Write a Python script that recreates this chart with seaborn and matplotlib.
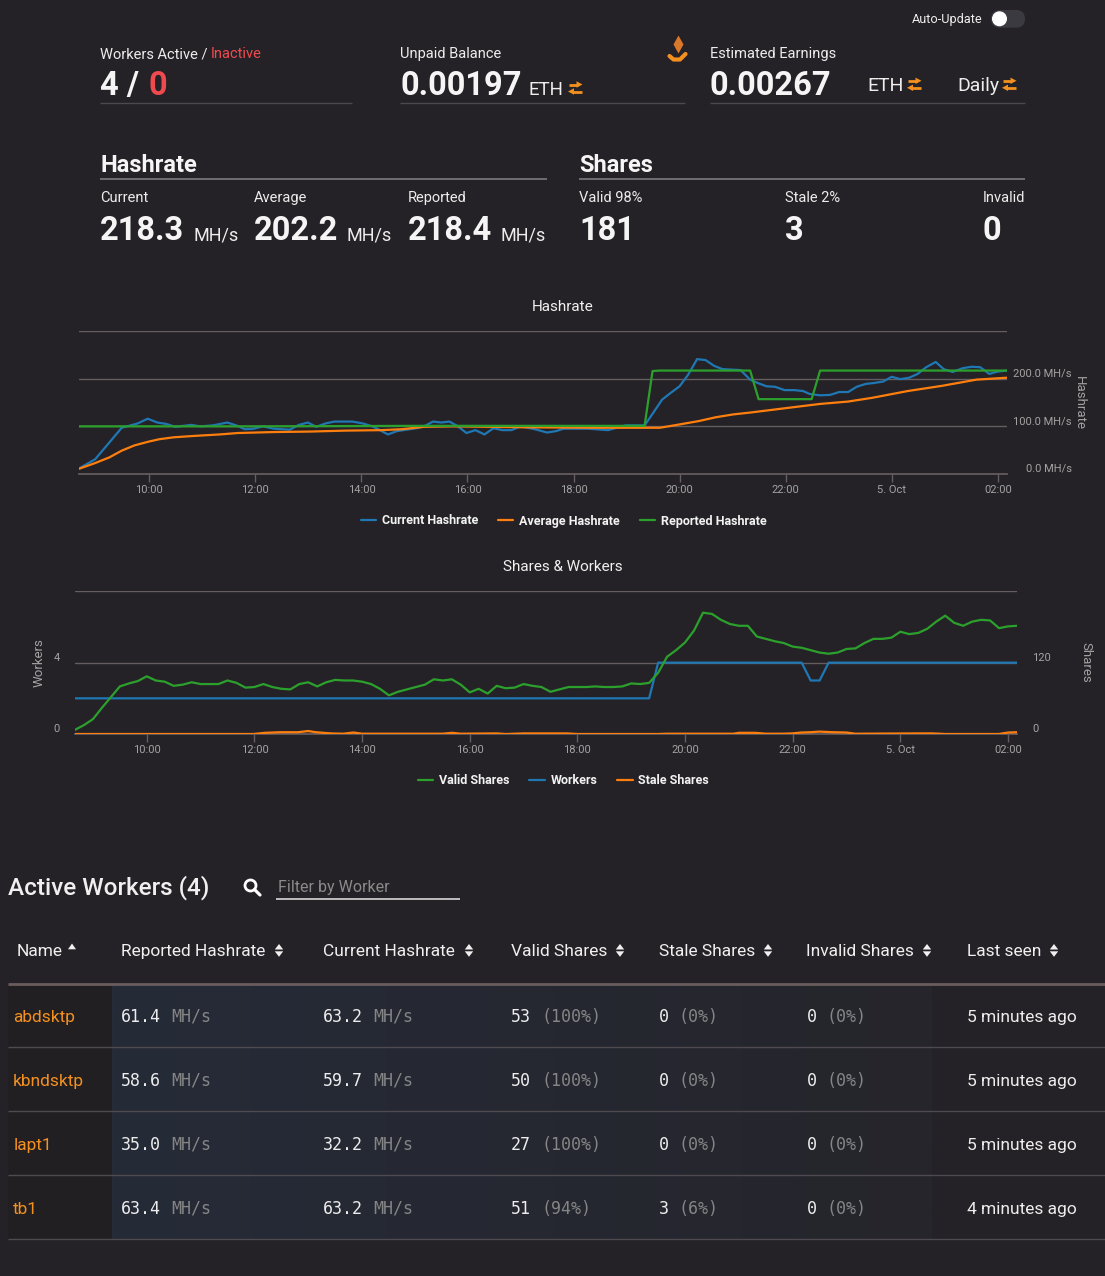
import numpy as np
import pandas as pd
import matplotlib
matplotlib.use("Agg")
import matplotlib.pyplot as plt
import seaborn as sns
from matplotlib.patches import FancyBboxPatch, Circle, Polygon
from matplotlib.ticker import FuncFormatter

"""
Mining dashboard: hashrate / shares charts plus the worker table
"""

W, H = 1105, 1276
BG = "#242226"
GRID = "#655d60"
TICK_TXT = "#a3a3a3"
TXT = "#ededed"
BLUE, ORANGE, GREEN = "#1f77b4", "#ff7f0e", "#2ca02c"
ACCENT = "#f39020"
RED = "#f04a4f"

# ---------------- chart data (hours since 4 Oct 00:00) ----------------
cur_hours = [8.65, 8.98, 9.48, 9.78, 9.97, 10.15, 10.32, 10.49, 10.79, 10.96,
             11.20, 11.47, 11.64, 11.80, 11.97, 12.14, 12.35, 12.65, 12.82, 12.99,
             13.15, 13.32, 13.49, 13.83, 14.03, 14.23, 14.50, 14.67, 15.04, 15.18,
             15.35, 15.51, 15.66, 15.82, 15.98, 16.15, 16.32, 16.49, 16.66, 16.83,
             17.00, 17.27, 17.50, 17.67, 17.81, 18.28, 18.65, 18.98, 19.34, 19.47,
             19.67, 19.83, 20.00, 20.16, 20.33, 20.49, 20.65, 20.81, 21.15, 21.33,
             21.47, 21.64, 21.80, 21.98, 22.16, 22.33, 22.45, 22.65, 22.84, 23.01,
             23.18, 23.34, 23.51, 23.67, 23.84, 24.00, 24.16, 24.33, 24.49, 24.65,
             24.83, 24.98, 25.15, 25.34, 25.51, 25.67, 25.84, 26.00, 26.17]
cur_mhs = [10, 31, 97, 106, 116, 108, 105, 99, 103, 100,
           102, 108, 102, 94, 95, 100, 95, 93, 103, 108,
           99, 106, 110, 110, 106, 99, 83, 90, 96, 100,
           110, 108, 110, 100, 86, 92, 83, 96, 92, 92,
           100, 94, 87, 90, 95, 95, 92, 102, 102, 123,
           156, 170, 184, 208, 241, 239, 227, 220, 218, 198,
           191, 184, 183, 176, 176, 174, 168, 165, 166, 172,
           172, 183, 189, 191, 194, 204, 199, 202, 210, 224,
           235, 220, 214, 222, 225, 224, 210, 215, 217]

avg_hours = [8.65, 8.98, 9.25, 9.48, 9.72, 9.99, 10.19, 10.46, 10.86, 11.33,
             11.67, 12.35, 13.02, 13.70, 14.37, 14.77, 15.18, 15.72, 17.07, 18.42,
             19.34, 19.63, 20.00, 20.36, 20.68, 21.01, 21.34, 21.99, 22.65, 23.18,
             23.64, 24.30, 24.95, 25.60, 26.17]
avg_mhs = [10, 23, 35, 49, 60, 68, 73, 77, 80, 83,
           86, 88, 89, 91, 92, 94, 99, 100, 98, 97,
           97, 97, 104, 111, 119, 125, 129, 138, 147, 152,
           160, 174, 185, 198, 202]

rep_hours = [8.65, 12.0, 15.0, 19.34, 19.49, 19.63, 21.33, 21.49, 22.49, 22.65, 26.17]
rep_mhs = [100, 100, 101, 101, 216, 217, 217, 157, 157, 217, 217]

# shares come in 10 minute buckets, 08:40 .. 02:10
share_times = pd.date_range("2021-10-04 08:40", "2021-10-05 02:10", freq="10min")
valid_shares = [7, 15, 25, 44, 62, 80, 85, 89, 97, 90,
                88, 81, 83, 87, 84, 84, 84, 90, 86, 78,
                79, 84, 79, 76, 75, 84, 87, 80, 87, 91,
                90, 90, 88, 84, 76, 65, 71, 75, 79, 83,
                92, 90, 92, 83, 70, 76, 68, 81, 77, 78,
                84, 81, 79, 71, 75, 79, 79, 79,
                80, 79, 79, 80, 85, 84, 86, 103, 130, 141,
                154, 174, 204, 202, 192, 185, 182, 182, 164, 160,
                156, 153, 147, 145, 141, 137, 135, 137, 143, 144,
                153, 160, 160, 162, 172, 168, 170, 177, 189, 199,
                187, 182, 189, 192, 191, 178, 181, 182]

worker_hours = [8.667, 19.333, 19.5, 22.167, 22.333, 22.5, 22.667, 26.167]
worker_count = [2, 2, 4, 4, 3, 3, 4, 4]

stale_hours = [8.667, 11.98, 12.2, 12.48, 12.81, 13.0, 13.14, 13.43, 13.65, 13.84,
               14.0, 15.5, 15.67, 15.83, 16.5, 16.67, 17.0, 17.8, 18.0, 19.5,
               19.66, 20.9, 21.0, 21.3, 21.5, 21.82, 21.99, 22.16, 22.33, 22.49,
               22.75, 23.0, 23.16, 24.33, 24.6, 24.84, 25.83, 26.0, 26.167]
stale_shares = [0, 0, 2, 3, 3, 5, 3, 1, 0.5, 2.5,
                0.5, 0.5, 2, 0.5, 1, 0, 1, 1, 0, 0,
                0.5, 0.5, 2, 2, 0.5, 0.5, 1, 2.5, 3, 4,
                3, 2.5, 0.5, 1, 1, 0, 0, 2.5, 3]

# ---------------- header stats ----------------
hash_labels = ["Current", "Average", "Reported"]
hash_values = ["218.3", "202.2", "218.4"]
share_labels = ["Valid 98%", "Stale 2%", "Invalid"]
share_values = ["181", "3", "0"]

# ---------------- worker table ----------------
worker_names = ["abdsktp", "kbndsktp", "lapt1", "tb1"]
reported_rate = ["61.4", "58.6", "35.0", "63.4"]
current_rate = ["63.2", "59.7", "32.2", "63.2"]
valid_cnt = [53, 50, 27, 51]
valid_pct = [100, 100, 100, 94]
stale_cnt = [0, 0, 0, 3]
stale_pct = [0, 0, 0, 6]
invalid_cnt = [0, 0, 0, 0]
invalid_pct = [0, 0, 0, 0]
last_seen = ["5 minutes ago", "5 minutes ago", "5 minutes ago", "4 minutes ago"]
table_cols = ["Name", "Reported Hashrate", "Current Hashrate", "Valid Shares",
              "Stale Shares", "Invalid Shares", "Last seen"]

# ---------------- style ----------------
sns.set_theme(style="dark", rc={"figure.facecolor": BG, "axes.facecolor": BG,
                                "savefig.facecolor": BG})
plt.rcParams["font.family"] = ["Roboto", "DejaVu Sans"]
MONO = ["DejaVu Sans Mono"]

fig = plt.figure(figsize=(W / 100, H / 100), dpi=100)
bg = fig.add_axes([0, 0, 1, 1], zorder=0)
bg.set_xlim(0, W)
bg.set_ylim(H, 0)
bg.axis("off")


def box(x0, y0, x1, y1):
    # pixel box -> figure fraction rect
    return [x0 / W, 1 - y1 / H, (x1 - x0) / W, (y1 - y0) / H]


def put(x, y, s, size, color=TXT, weight="normal", ha="left", family=None, **kw):
    bg.text(x, y, s, fontsize=size, color=color, fontweight=weight, ha=ha,
            va="baseline", family=family if family else plt.rcParams["font.family"], **kw)


def hline(x0, x1, y, color, lw=1.0):
    bg.plot([x0, x1], [y, y], color=color, lw=lw, solid_capstyle="butt")


def swap_icon(x0, ytop, w=14.5, gap=7):
    # two stacked arrows, right then left
    yb = ytop + gap
    bg.plot([x0 + 1, x0 + w - 5], [ytop, ytop], color=ACCENT, lw=2, solid_capstyle="butt")
    bg.add_patch(Polygon([(x0 + w - 6, ytop - 3.2), (x0 + w - 6, ytop + 3.2), (x0 + w, ytop)],
                         closed=True, fc=ACCENT, ec="none"))
    bg.plot([x0 + 5, x0 + w - 1], [yb, yb], color=ACCENT, lw=2, solid_capstyle="butt")
    bg.add_patch(Polygon([(x0 + 6, yb - 3.2), (x0 + 6, yb + 3.2), (x0, yb)],
                         closed=True, fc=ACCENT, ec="none"))


def sort_icon(x, up=True, down=True):
    col = "#f0f0f0"
    if up:
        bg.add_patch(Polygon([(x - 4.2, 949.5), (x + 4.2, 949.5), (x, 944)],
                             closed=True, fc=col, ec="none"))
    if down:
        bg.add_patch(Polygon([(x - 4.2, 951.3), (x + 4.2, 951.3), (x, 956.8)],
                             closed=True, fc=col, ec="none"))


def hour_fmt(h, pos):
    h = int(round(h))
    return "5. Oct" if h % 24 == 0 else f"{h % 24:02d}:00"


# ---------------- top stats ----------------
put(983, 23.3, "Auto-Update", 9.2, ha="right")
bg.add_patch(FancyBboxPatch((991, 10), 34, 17.7, boxstyle="round,pad=0,rounding_size=8.8",
                            fc="#3c3a41", ec="none"))
bg.add_patch(Circle((999.5, 18.8), 6.8, color="white"))

put(100, 58.3, "Workers Active / ", 10.5)
put(210.7, 58.3, "Inactive", 10.5, color=RED)
put(100, 95, "4 / ", 23.5, weight="bold", color="#f5f5f5")
put(148, 95, "0", 23.5, weight="bold", color=RED)
hline(100, 352, 103.3, "#4b484f")

put(400, 58.3, "Unpaid Balance", 10.5)
put(400, 95, "0.00197", 23.5, weight="bold", color="#f5f5f5")
put(528, 95, "ETH", 13.5)
swap_icon(568, 84.5)
hline(400, 685, 103.3, "#4b484f")
# eth hand icon
bg.plot([678], [44], marker="d", ms=9, color="#d9782a", mec="none")
bg.plot([669.5, 673.5, 680, 685.5], [56, 59.5, 59.5, 54], color=ACCENT, lw=3,
        solid_capstyle="round")

put(709.5, 58.3, "Estimated Earnings", 10.5)
put(709.5, 95, "0.00267", 23.5, weight="bold", color="#f5f5f5")
put(867, 91, "ETH", 14)
swap_icon(907, 80.8)
put(957, 91, "Daily", 14)
swap_icon(1002, 80.8)
hline(709.5, 1025, 103.3, "#4b484f")

put(100, 171.7, "Hashrate", 17, weight="bold", color="#f5f5f5")
hline(100, 547, 179.3, "#7b7a7e", 1.2)
put(579, 171.7, "Shares", 17, weight="bold", color="#f5f5f5")
hline(579, 1025, 179.3, "#7b7a7e", 1.2)

for lab, val, xl, xu in zip(hash_labels, hash_values, [100, 254, 407.5], [193.6, 347, 501]):
    put(xl, 202, lab, 10.5)
    put(xl, 240, val, 23.5, weight="bold", color="#f5f5f5")
    put(xu, 240, "MH/s", 13)
share_x = [579, 785, 1025]
for i, (lab, val) in enumerate(zip(share_labels, share_values)):
    if i == 2:
        put(share_x[i], 202, lab, 10.5, ha="right")
        put(983, 240, val, 23.5, weight="bold", color="#f5f5f5")
    else:
        put(share_x[i], 202, lab, 10.5)
        put(share_x[i], 240, val, 23.5, weight="bold", color="#f5f5f5")

# ---------------- hashrate chart ----------------
x_lo, x_hi = 8 + 40 / 60, 26 + 10 / 60
ax_h = fig.add_axes(box(78.6, 331, 1006.6, 474), zorder=2)
ax_h.set_facecolor("none")
sns.lineplot(x=cur_hours, y=cur_mhs, ax=ax_h, color=BLUE, lw=1.6,
             label="Current Hashrate", legend=False, errorbar=None)
sns.lineplot(x=avg_hours, y=avg_mhs, ax=ax_h, color=ORANGE, lw=1.6,
             label="Average Hashrate", legend=False, errorbar=None)
sns.lineplot(x=rep_hours, y=rep_mhs, ax=ax_h, color=GREEN, lw=1.6,
             label="Reported Hashrate", legend=False, errorbar=None)
ax_h.set_xlim(x_lo, x_hi)
ax_h.set_ylim(0, 300)
ax_h.yaxis.tick_right()
ax_h.set_yticks([0, 100, 200, 300])
ax_h.set_yticklabels(["0.0 MH/s", "100.0 MH/s", "200.0 MH/s", ""])
ax_h.tick_params(axis="y", length=0, pad=47, labelsize=8, labelcolor=TICK_TXT)
for t in ax_h.get_yticklabels():
    t.set_ha("right")
    t.set_va("bottom")
ax_h.set_xticks(range(10, 27, 2))
ax_h.xaxis.set_major_formatter(FuncFormatter(hour_fmt))
ax_h.tick_params(axis="x", bottom=True, length=6, width=1, color=GRID, pad=2,
                 labelsize=8, labelcolor=TICK_TXT)
ax_h.grid(axis="y", color=GRID, lw=1)
ax_h.grid(axis="x", visible=False)
for s in ["top", "left", "right"]:
    ax_h.spines[s].set_visible(False)
ax_h.spines["bottom"].set_color(GRID)
ax_h.set_xlabel("")
ax_h.set_ylabel("Hashrate", rotation=270, color=TICK_TXT, fontsize=9.5, va="center", ha="center")
ax_h.yaxis.set_label_position("right")
ax_h.yaxis.set_label_coords((1086 - 78.6) / 928, (474 - 403) / 143)

put(563, 310.7, "Hashrate", 11, ha="center", color="#f0f0f0")
hh, hl = ax_h.get_legend_handles_labels()
fig.legend(hh, hl, loc="center", bbox_to_anchor=(563.5 / W, 1 - 521 / H), ncol=3,
           frameon=False, prop={"weight": "bold", "size": 9}, labelcolor="#f2f2f2",
           handlelength=1.24, handletextpad=0.44, columnspacing=1.6)

# ---------------- shares & workers chart ----------------
share_hours = (share_times - pd.Timestamp("2021-10-04")) / pd.Timedelta(hours=1)
shares_df = pd.DataFrame({"hour": np.asarray(share_hours), "valid": valid_shares})

ax_w = fig.add_axes(box(75, 591.3, 1017, 734), zorder=2)
ax_w.set_facecolor("none")
ax_s = ax_w.twinx()
ax_s.set_zorder(3)
ax_s.patch.set_visible(False)

sns.lineplot(data=shares_df, x="hour", y="valid", ax=ax_s, color=GREEN, lw=1.6,
             label="Valid Shares", legend=False, errorbar=None)
sns.lineplot(x=worker_hours, y=worker_count, ax=ax_w, color=BLUE, lw=1.6,
             label="Workers", legend=False, errorbar=None)
sns.lineplot(x=stale_hours, y=stale_shares, ax=ax_s, color=ORANGE, lw=1.6,
             label="Stale Shares", legend=False, errorbar=None)

for a in (ax_w, ax_s):
    a.set_xlim(x_lo, x_hi)
    for s in ["top", "left", "right", "bottom"]:
        a.spines[s].set_visible(False)
ax_w.spines["bottom"].set_visible(True)
ax_w.spines["bottom"].set_color(GRID)

ax_w.set_ylim(0, 8)
ax_w.set_yticks([0, 4, 8])
ax_w.set_yticklabels(["0", "4", ""])
ax_w.tick_params(axis="y", length=0, pad=10.8, labelsize=8, labelcolor=TICK_TXT)
ax_s.set_ylim(0, 240)
ax_s.set_yticks([0, 120, 240])
ax_s.set_yticklabels(["0", "120", ""])
ax_s.tick_params(axis="y", length=0, pad=10.8, labelsize=8, labelcolor=TICK_TXT)
for t in ax_w.get_yticklabels() + ax_s.get_yticklabels():
    t.set_va("bottom")
ax_w.grid(axis="y", color=GRID, lw=1)
ax_w.grid(axis="x", visible=False)
ax_s.grid(False)

ax_w.set_xticks(range(10, 27, 2))
ax_w.xaxis.set_major_formatter(FuncFormatter(hour_fmt))
ax_w.tick_params(axis="x", bottom=True, length=6, width=1, color=GRID, pad=2,
                 labelsize=8, labelcolor=TICK_TXT)
ax_w.set_xlabel("")
ax_s.set_xlabel("")
ax_w.set_ylabel("Workers", color=TICK_TXT, fontsize=9.5, va="center", ha="center")
ax_w.yaxis.set_label_coords((39.5 - 75) / 942, 0.5)
ax_s.set_ylabel("Shares", rotation=270, color=TICK_TXT, fontsize=9.5, va="center", ha="center")
ax_s.yaxis.set_label_coords((1085.5 - 75) / 942, 0.5)

put(563, 570.7, "Shares & Workers", 11, ha="center", color="#f0f0f0")
sh, sl = ax_s.get_legend_handles_labels()
wh, wl = ax_w.get_legend_handles_labels()
fig.legend([sh[0], wh[0], sh[1]], [sl[0], wl[0], sl[1]], loc="center",
           bbox_to_anchor=(563.5 / W, 1 - 781 / H), ncol=3, frameon=False,
           prop={"weight": "bold", "size": 9}, labelcolor="#f2f2f2",
           handlelength=1.24, handletextpad=0.44, columnspacing=1.6)

# ---------------- active workers table ----------------
put(8, 895, "Active Workers (4)", 17.5, weight="medium", color="#f0f0f0")
bg.add_patch(Circle((250.5, 885.5), 5.5, fill=False, ec="white", lw=2))
bg.plot([254.6, 260], [889.6, 895], color="white", lw=2.3, solid_capstyle="round")
put(278, 891.7, "Filter by Worker", 11.5, color="#8a8a8a")
hline(276, 460, 899, "#d8d8d8", 1.2)

# row background, faint blue fading to the right
grad = np.linspace(0, 1, 256)
c0 = np.array(matplotlib.colors.to_rgb("#262b38"))
c1 = np.array(matplotlib.colors.to_rgb("#25252b"))
img = (c0[None, :] * (1 - grad[:, None]) + c1[None, :] * grad[:, None])[None, :, :]
bg.imshow(img, extent=[112, 932, 1240, 985], aspect="auto", zorder=0.5, interpolation="bilinear")
bg.add_patch(plt.Rectangle((8, 985), 104, 255, fc="#221f23", ec="none", zorder=0.5))
bg.set_xlim(0, W)
bg.set_ylim(H, 0)

col_x = [16.8, 120.7, 323, 511, 658.6, 806.4, 967]
sort_x = [None, 279, 469, 620, 768, 927, 1054]
for name, cx, sx in zip(table_cols, col_x, sort_x):
    put(cx, 955.7, name, 12.5, color="#f0f0f0")
    if sx is not None:
        sort_icon(sx)
# Name column is sorted ascending
bg.add_patch(Polygon([(68, 949.3), (76, 949.3), (72, 943.5)], closed=True, fc="#f0f0f0", ec="none"))

hline(8, W, 984, "#6a5c5d", 2)
CW = 10.03  # mono advance at 12pt
for i in range(len(worker_names)):
    yb = 1021.7 + 64 * i
    put(13.2, yb, worker_names[i], 12.5, color=ACCENT)
    put(120.7, yb, reported_rate[i], 12, family=MONO)
    put(120.7 + 5 * CW, yb, "MH/s", 12, color="#858585", family=MONO)
    put(323, yb, current_rate[i], 12, family=MONO)
    put(323 + 5 * CW, yb, "MH/s", 12, color="#858585", family=MONO)
    for cx, cnt, pct in [(511, valid_cnt[i], valid_pct[i]),
                         (658.6, stale_cnt[i], stale_pct[i]),
                         (806.4, invalid_cnt[i], invalid_pct[i])]:
        s = str(cnt)
        put(cx, yb, s, 12, family=MONO)
        put(cx + (len(s) + 1) * CW, yb, f"({pct}%)", 12, color="#858585", family=MONO)
    put(967, yb, last_seen[i], 12.5)
    hline(8, W, 1047.3 + 64 * i, "#4f4a50", 1)

fig.savefig("out.png", dpi=100, facecolor=BG)
